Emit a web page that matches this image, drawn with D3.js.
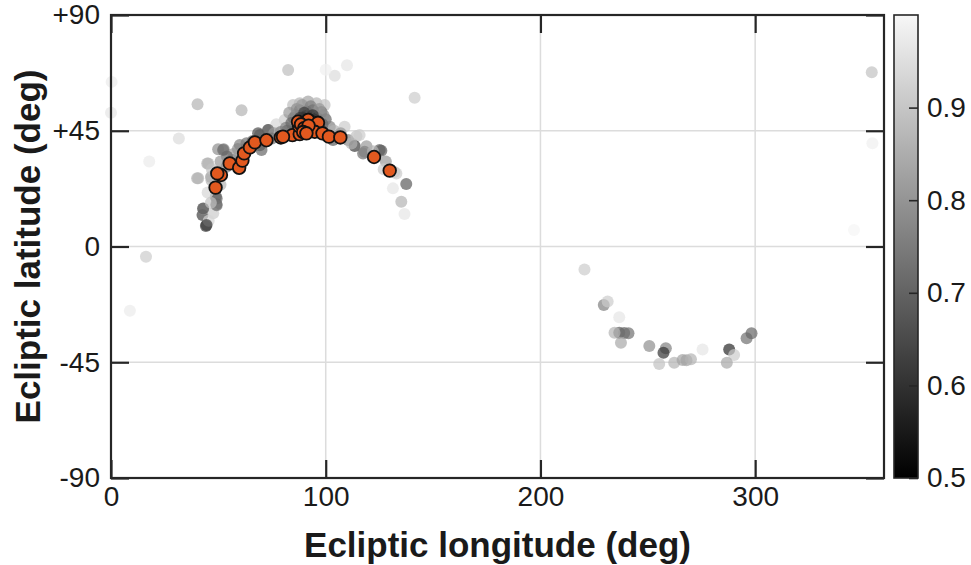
<!DOCTYPE html>
<html>
<head>
<meta charset="utf-8">
<script src="https://cdn.jsdelivr.net/npm/d3@7"></script>
<style>
  body { margin: 0; background: #fff; }
  text { font-family: "Liberation Sans", Arial, Helvetica, sans-serif; fill: #1a1a1a; }
</style>
</head>
<body>
<div id="chart"></div>
<script>
// ecliptic scatter: gray points coloured by value, orange points on top

// gray points: longitude, latitude, value (colour)
var grayLon = [82.5, 109.9, 104.2, 100, 40.3, 60.8, 31.6, 17.8, 16.3, 8.8, 141.4, 0.3, 0, 354.3, 354.6, 346,
  44.2, 42.6, 43, 49.1, 48.8, 47.6, 45.5, 40.1, 46.6, 44.8, 49.9, 52.5, 59.1, 63.1, 69.3, 73.2, 70.1,
  80.9, 77, 81.5, 87.9, 91.8, 95.7, 99.5, 84.8, 87.9, 91, 94, 98, 89.5, 96, 86, 100, 101.9, 108.8,
  103.4, 105, 110.4, 114.3, 113.5, 117.4, 119, 125.9, 131.3, 135.2, 137.5, 136.7, 132,
  52.2, 45.3, 40.6, 42.9, 44.5, 49.2, 49.2, 46.8, 68.5, 73.2, 69.3, 63.1, 56.9, 53.8,
  88, 92, 95, 90, 93.5, 86, 97, 115.8, 118.1, 125.1, 132.9,
  83, 85, 86.5, 89, 93, 97, 99, 84, 90, 94, 92, 88, 96, 98.5, 82, 79, 76, 75, 66, 60, 57, 54, 51, 47,
  45, 46.5, 51, 104, 107, 112, 122, 128, 127,
  220.5, 229.5, 231.3, 236.7, 236.7, 239, 241, 234.5, 237.5, 250.7, 258.4, 257.3, 255.3, 262.3,
  266.2, 268, 270.1, 275.5, 287.9, 290.2, 286.8, 296, 298.3];
var grayLat = [68.6, 70.5, 66.4, 68.7, 55.3, 53.0, 42.0, 33.0, -4.0, -25, 57.8, 64, 52, 67.7, 40.1, 6.4,
  8.0, 12.2, 14.7, 16.4, 19.4, 12.9, 10, 26.5, 27, 32.3, 37.8, 37.8, 37.9, 40.1, 43.3, 45.3, 37.5,
  49.2, 47.5, 46.2, 55.7, 56.4, 55.7, 55, 55, 53, 52.5, 53, 52.3, 50, 50, 51, 49.5, 46.6, 46.6,
  41.4, 43, 41.4, 42.9, 39.1, 36.2, 39, 37.2, 22.6, 17.4, 24.3, 12.6, 29,
  37.5, 32.3, 26.5, 14.8, 8.4, 18.7, 16, 25.8, 44, 45.3, 39.4, 38.2, 33.6, 31,
  47, 46, 47.5, 44.5, 49, 45, 45.5, 43.3, 36.8, 37.5, 28.4,
  52, 50, 53.5, 55, 54.5, 53.5, 51, 48, 52, 51, 49, 50, 48, 47.5, 45, 44.5, 44, 42, 41, 39.5, 36, 35, 33, 30,
  21, 17, 24, 45, 44, 40, 37, 33, 30];
var grayVal = [0.87, 0.95, 0.93, 0.97, 0.85, 0.85, 0.93, 0.96, 0.9, 0.96, 0.9, 0.96, 0.95, 0.88, 0.97, 0.98,
  0.62, 0.63, 0.85, 0.7, 0.68, 0.9, 0.92, 0.85, 0.8, 0.85, 0.78, 0.75, 0.78, 0.72, 0.75, 0.7, 0.7,
  0.9, 0.92, 0.75, 0.85, 0.82, 0.85, 0.88, 0.87, 0.7, 0.6, 0.65, 0.72, 0.55, 0.6, 0.72, 0.7, 0.75, 0.9,
  0.68, 0.72, 0.75, 0.88, 0.62, 0.72, 0.8, 0.68, 0.95, 0.85, 0.68, 0.95, 0.88,
  0.72, 0.85, 0.85, 0.65, 0.62, 0.7, 0.72, 0.85, 0.65, 0.7, 0.68, 0.7, 0.72, 0.75,
  0.52, 0.5, 0.55, 0.55, 0.52, 0.6, 0.6, 0.9, 0.75, 0.68, 0.9,
  0.8, 0.75, 0.78, 0.8, 0.75, 0.8, 0.78, 0.7, 0.62, 0.6, 0.55, 0.6, 0.62, 0.7, 0.7, 0.75, 0.8, 0.72, 0.7, 0.75,
  0.8, 0.7, 0.8, 0.88, 0.92, 0.88, 0.85, 0.85, 0.8, 0.85, 0.85, 0.8, 0.9,
  0.9, 0.75, 0.9, 0.95, 0.68, 0.7, 0.72, 0.85, 0.83, 0.78, 0.75, 0.6, 0.88, 0.85,
  0.82, 0.82, 0.85, 0.95, 0.58, 0.9, 0.83, 0.72, 0.7];
// the southern arc values line up with the last 23 longitudes
grayLat = grayLat.concat([-8.9, -22.7, -21.4, -27.5, -33.5, -33.6, -33.7, -33.5, -37.4, -38.7, -39.6, -41.3,
  -45.7, -45.2, -44.1, -44.2, -43.8, -40, -40, -42.2, -45.2, -35.7, -33.7]);

// orange points
var orangeLon = [48.7, 51.2, 49.5, 55.3, 59.7, 61.2, 62.0, 64.7, 67.0, 72.4, 79.1, 84.5, 87.9, 87.6, 91.8,
  93.3, 96.4, 94.9, 98.5, 101.5, 106.8, 122.5, 129.8, 87.1, 88.5, 90, 92, 89.5, 91, 80.1];
var orangeLat = [22.9, 27.8, 28.4, 32.3, 30.6, 33.4, 36.2, 38.5, 40.5, 41.3, 42.4, 43.3, 43.7, 46.8, 49.2,
  45.9, 48.1, 44.6, 44.0, 42.7, 42.4, 34.8, 29.5, 48.5, 47.5, 46, 47, 44.5, 44, 42.7];

var xTicks = [0, 100, 200, 300];
var yTicks = [-90, -45, 0, 45, 90];
var yTickLabels = ['-90', '-45', '0', '+45', '+90'];
var cbTicks = [0.5, 0.6, 0.7, 0.8, 0.9];

var width = 971, height = 565;
var plotLeft = 111, plotRight = 884, plotTop = 15, plotBottom = 478;
var frameColor = '#262626';
var gridColor = '#dcdcdc';
var orangeColor = '#e2591f';

var svg = d3.select('#chart').append('svg')
    .attr('width', width)
    .attr('height', height);

var x = d3.scaleLinear().domain([0, 360]).range([plotLeft, plotRight]);
var y = d3.scaleLinear().domain([-90, 90]).range([plotBottom, plotTop]);
var shade = d3.scaleLinear().domain([0.5, 1]).range(['#000000', '#ffffff']).clamp(true);

// grid lines
svg.append('g').selectAll('line')
    .data(xTicks.slice(1))
    .enter().append('line')
    .attr('x1', d => x(d)).attr('x2', d => x(d))
    .attr('y1', plotTop).attr('y2', plotBottom)
    .attr('stroke', gridColor).attr('stroke-width', 1.5);
svg.append('g').selectAll('line')
    .data([-45, 0, 45])
    .enter().append('line')
    .attr('x1', plotLeft).attr('x2', plotRight)
    .attr('y1', d => y(d)).attr('y2', d => y(d))
    .attr('stroke', gridColor).attr('stroke-width', 1.5);

// gray points
var grayData = grayLon.map((d, i) => ({lon: d, lat: grayLat[i], v: grayVal[i]}));
svg.append('g').selectAll('circle')
    .data(grayData)
    .enter().append('circle')
    .attr('cx', d => x(d.lon))
    .attr('cy', d => y(d.lat))
    .attr('r', 6)
    .style('fill', d => shade(d.v))
    .style('fill-opacity', 0.7);

// orange points
var orangeData = orangeLon.map((d, i) => ({lon: d, lat: orangeLat[i]}));
svg.append('g').selectAll('circle')
    .data(orangeData)
    .enter().append('circle')
    .attr('cx', d => x(d.lon))
    .attr('cy', d => y(d.lat))
    .attr('r', 6.3)
    .style('fill', orangeColor)
    .style('stroke', '#111')
    .style('stroke-width', 1.8);

// axes with inward ticks
function styleAxis(g) {
  g.select('.domain').remove();
  g.selectAll('.tick line').attr('stroke', frameColor).attr('stroke-width', 2.2);
  g.selectAll('.tick text').style('font-size', '28px').attr('fill', '#1a1a1a');
}

var xAxis = d3.axisBottom(x).tickValues(xTicks).tickSizeInner(-18).tickSizeOuter(0).tickPadding(8);
svg.append('g').attr('transform', 'translate(0,' + plotBottom + ')').call(xAxis).call(styleAxis);
svg.append('g').attr('transform', 'translate(0,' + plotTop + ')')
    .call(d3.axisTop(x).tickValues(xTicks).tickSizeInner(-18).tickSizeOuter(0).tickFormat(''))
    .call(styleAxis);

var yAxis = d3.axisLeft(y).tickValues(yTicks).tickSizeInner(-18).tickSizeOuter(0).tickPadding(11)
    .tickFormat((d, i) => yTickLabels[i]);
svg.append('g').attr('transform', 'translate(' + plotLeft + ',0)').call(yAxis).call(styleAxis);
svg.append('g').attr('transform', 'translate(' + plotRight + ',0)')
    .call(d3.axisRight(y).tickValues(yTicks).tickSizeInner(-18).tickSizeOuter(0).tickFormat(''))
    .call(styleAxis);

// frame
svg.append('rect')
    .attr('x', plotLeft).attr('y', plotTop)
    .attr('width', plotRight - plotLeft).attr('height', plotBottom - plotTop)
    .attr('fill', 'none').attr('stroke', frameColor).attr('stroke-width', 2.2);

// titles
svg.append('text')
    .attr('x', (plotLeft + plotRight) / 2)
    .attr('y', 557)
    .style('text-anchor', 'middle')
    .style('font-size', '35px')
    .style('font-weight', 'bold')
    .text('Ecliptic longitude (deg)');

svg.append('text')
    .attr('transform', 'rotate(-90)')
    .attr('x', -(plotTop + plotBottom) / 2)
    .attr('y', 40)
    .style('text-anchor', 'middle')
    .style('font-size', '35px')
    .style('font-weight', 'bold')
    .text('Ecliptic latitude (deg)');

// colorbar
var cbLeft = 894, cbWidth = 24;
var cbScale = d3.scaleLinear().domain([0.5, 1]).range([plotBottom, plotTop]);
var grad = svg.append('defs').append('linearGradient')
    .attr('id', 'cbGrad')
    .attr('x1', 0).attr('y1', 1).attr('x2', 0).attr('y2', 0);
grad.append('stop').attr('offset', '0%').attr('stop-color', shade(0.5));
grad.append('stop').attr('offset', '100%').attr('stop-color', shade(0.985));

svg.append('rect')
    .attr('x', cbLeft).attr('y', plotTop)
    .attr('width', cbWidth).attr('height', plotBottom - plotTop)
    .attr('fill', 'url(#cbGrad)')
    .attr('stroke', frameColor).attr('stroke-width', 1.6);

var cbAxis = d3.axisRight(cbScale).tickValues(cbTicks).tickSizeInner(-9).tickSizeOuter(0).tickPadding(9)
    .tickFormat(d3.format('.1f'));
svg.append('g').attr('transform', 'translate(' + (cbLeft + cbWidth) + ',0)')
    .call(cbAxis)
    .call(g => {
      g.select('.domain').remove();
      g.selectAll('.tick line').attr('stroke', frameColor).attr('stroke-width', 1.6);
      g.selectAll('.tick text').style('font-size', '28px').attr('fill', '#1a1a1a');
    });
</script>
</body>
</html>
